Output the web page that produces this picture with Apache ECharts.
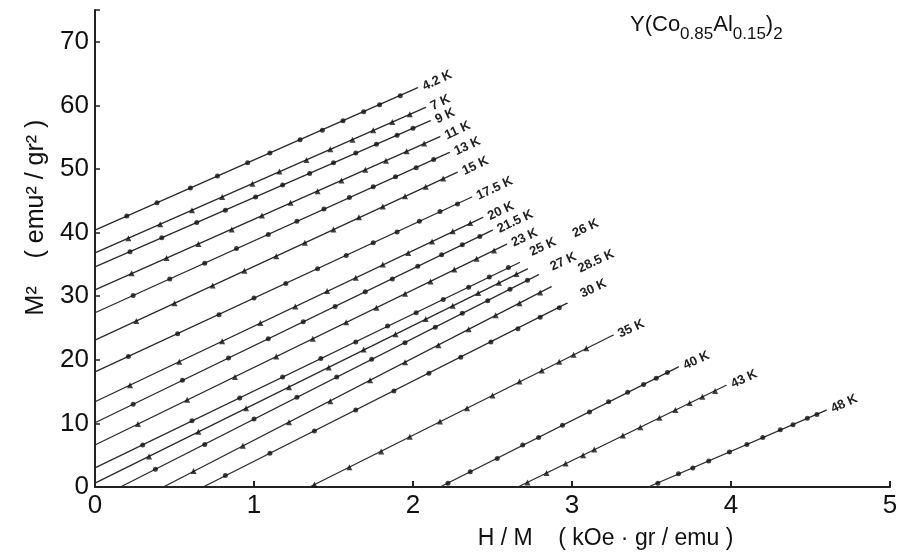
<!DOCTYPE html>
<html>
<head>
<meta charset="utf-8">
<script src="https://cdn.jsdelivr.net/npm/echarts@6/dist/echarts.min.js"></script>
<style>html,body{margin:0;padding:0;background:#fff}#c{width:904px;height:557px}</style>
</head>
<body>
<div id="c"></div>
<script>
// Temperatures (line labels)
const temps = ['4.2 K','7 K','9 K','11 K','13 K','15 K','17.5 K','20 K','21.5 K','23 K','25 K','26 K','27 K','28.5 K','30 K','35 K','40 K','43 K','48 K'];
// Straight-line fits: start and end points [H/M, M^2]
const fitStart = [[0,40.4],[0,36.8],[0,34.6],[0,31.0],[0,27.4],[0,23.1],[0,18.1],[0,13.4],[0,10.1],[0,6.6],[0,3.0],[0,0.6],[0.16,0],[0.43,0],[0.68,0],[1.35,0],[2.17,0],[2.66,0],[3.48,0]];
const fitEnd = [[2.03,62.8],[2.08,59.7],[2.11,57.6],[2.17,55.1],[2.23,52.6],[2.28,49.5],[2.37,45.6],[2.44,42.4],[2.50,40.4],[2.59,38.2],[2.67,35.3],[2.72,34.3],[2.79,33.4],[2.87,31.5],[2.97,28.9],[3.26,23.9],[3.67,18.9],[3.97,16.0],[4.60,12.1]];
// Measured points per temperature [H/M, M^2]
const p4_2 = [[0.20,42.6],[0.39,44.7],[0.60,47.0],[0.77,48.9],[0.96,51.0],[1.10,52.5],[1.29,54.6],[1.43,56.1],[1.56,57.6],[1.69,59.0],[1.79,60.1],[1.92,61.5]];
const p7 = [[0.21,39.1],[0.41,41.3],[0.61,43.5],[0.80,45.6],[0.99,47.7],[1.16,49.6],[1.33,51.4],[1.48,53.1],[1.62,54.6],[1.75,56.1],[1.87,57.4],[1.98,58.6]];
const p9 = [[0.22,37.0],[0.42,39.2],[0.64,41.6],[0.82,43.5],[1.01,45.6],[1.18,47.5],[1.35,49.3],[1.50,51.0],[1.64,52.5],[1.77,53.9],[1.90,55.3],[2.00,56.4]];
const p11 = [[0.23,33.6],[0.45,36.0],[0.65,38.2],[0.86,40.5],[1.05,42.7],[1.23,44.7],[1.40,46.5],[1.55,48.2],[1.70,49.9],[1.83,51.3],[1.96,52.8],[2.07,54.0]];
const p13 = [[0.24,30.1],[0.47,32.7],[0.69,35.2],[0.89,37.5],[1.09,39.7],[1.27,41.8],[1.44,43.7],[1.60,45.5],[1.75,47.2],[1.89,48.8],[2.02,50.2],[2.13,51.5]];
const p15 = [[0.26,26.1],[0.50,28.9],[0.74,31.7],[0.94,34.0],[1.14,36.3],[1.32,38.4],[1.50,40.5],[1.66,42.4],[1.81,44.1],[1.95,45.7],[2.08,47.2],[2.19,48.5]];
const p17_5 = [[0.21,20.5],[0.52,24.1],[0.78,27.1],[1.00,29.7],[1.20,32.0],[1.40,34.3],[1.58,36.4],[1.75,38.4],[1.90,40.1],[2.04,41.8],[2.17,43.3],[2.28,44.5]];
const p20 = [[0.22,16.0],[0.53,19.7],[0.80,22.9],[1.04,25.8],[1.26,28.4],[1.46,30.8],[1.64,32.9],[1.81,35.0],[1.97,36.8],[2.12,38.6],[2.25,40.2],[2.36,41.5]];
const p21_5 = [[0.24,13.0],[0.55,16.8],[0.84,20.3],[1.09,23.3],[1.31,26.0],[1.51,28.4],[1.70,30.7],[1.87,32.7],[2.03,34.7],[2.18,36.5],[2.31,38.1],[2.42,39.4]];
const p23 = [[0.27,9.9],[0.58,13.7],[0.88,17.3],[1.14,20.5],[1.37,23.3],[1.58,25.9],[1.77,28.2],[1.95,30.4],[2.11,32.3],[2.26,34.2],[2.40,35.9],[2.51,37.2]];
const p25 = [[0.30,6.6],[0.61,10.4],[0.91,14.0],[1.18,17.3],[1.42,20.2],[1.64,22.8],[1.84,25.3],[2.02,27.4],[2.19,29.5],[2.35,31.4],[2.48,33.0],[2.60,34.5]];
const p26 = [[0.34,4.8],[0.65,8.7],[0.95,12.4],[1.22,15.7],[1.47,18.8],[1.69,21.6],[1.89,24.0],[2.08,26.4],[2.25,28.5],[2.41,30.5],[2.54,32.1],[2.65,33.5]];
const p27 = [[0.38,2.8],[0.69,6.7],[1.00,10.7],[1.27,14.1],[1.52,17.3],[1.74,20.1],[1.95,22.7],[2.14,25.1],[2.31,27.3],[2.47,29.3],[2.61,31.1],[2.72,32.5]];
const p28_5 = [[0.62,2.5],[0.93,6.5],[1.22,10.2],[1.48,13.5],[1.73,16.8],[1.95,19.6],[2.16,22.3],[2.35,24.8],[2.52,27.0],[2.67,28.9],[2.80,30.6]];
const p30 = [[0.82,1.8],[1.10,5.3],[1.38,8.8],[1.64,12.1],[1.88,15.1],[2.10,17.9],[2.30,20.4],[2.49,22.8],[2.66,24.9],[2.80,26.7],[2.92,28.2]];
const p35 = [[1.38,0.4],[1.60,3.1],[1.80,5.6],[1.98,7.9],[2.17,10.3],[2.34,12.4],[2.50,14.4],[2.67,16.6],[2.81,18.3],[2.92,19.7],[3.01,20.8],[3.09,21.8]];
const p40 = [[2.22,0.6],[2.36,2.4],[2.53,4.5],[2.69,6.6],[2.79,7.8],[2.94,9.7],[3.11,11.8],[3.23,13.4],[3.35,14.9],[3.45,16.1],[3.53,17.1],[3.60,18.0]];
const p43 = [[2.72,0.7],[2.84,2.2],[2.96,3.7],[3.07,5.0],[3.14,5.9],[3.32,8.1],[3.43,9.4],[3.55,10.9],[3.65,12.1],[3.74,13.2],[3.82,14.2],[3.90,15.1]];
const p48 = [[3.54,0.6],[3.67,2.1],[3.76,3.0],[3.86,4.1],[3.99,5.5],[4.10,6.7],[4.20,7.8],[4.31,9.0],[4.39,9.8],[4.48,10.8],[4.54,11.4]];
const pointSets = [p4_2,p7,p9,p11,p13,p15,p17_5,p20,p21_5,p23,p25,p26,p27,p28_5,p30,p35,p40,p43,p48];
// Axis ticks
const xTicks = [0,1,2,3,4,5];
const yTicks = [0,10,20,30,40,50,60,70];

const FONT = 'Liberation Sans, Arial, sans-serif';
const labelOffsets = {'25 K':[10,-6],'26 K':[52,-14],'27 K':[10,-3],'28.5 K':[28,-6],'30 K':[12,-4]};

const series = [];
temps.forEach((t, i) => {
  series.push({
    type: 'line', silent: true, showSymbol: true, symbol: 'circle', symbolSize: 1,
    itemStyle: { color: '#2a2a2a' },
    lineStyle: { color: '#2a2a2a', width: 1.3 },
    data: [{ value: fitStart[i], symbol: 'none' }, { value: fitEnd[i], label: {
      show: true, formatter: t, position: 'right', distance: 4, rotate: 25,
      offset: labelOffsets[t] || [1, 0],
      fontSize: 13, fontWeight: 'bold', color: '#222', fontFamily: FONT } }],
    z: 2
  });
  series.push({
    type: 'scatter', silent: true,
    symbol: i % 2 ? 'triangle' : 'circle', symbolSize: i % 2 ? 6 : 5,
    itemStyle: { color: '#111' },
    data: pointSets[i], z: 3
  });
});

const chart = echarts.init(document.getElementById('c'));
chart.setOption({
  animation: false,
  backgroundColor: '#fff',
  title: {
    text: '{m|Y(Co}{s|0.85}{m|Al}{s|0.15}{m|)}{s|2}',
    left: 630, top: 14, padding: 0,
    textStyle: { fontWeight: 'normal', rich: {
      m: { fontSize: 22, verticalAlign: 'top', fontFamily: FONT, color: '#111', fontWeight: 'normal' },
      s: { fontSize: 17, verticalAlign: 'top', padding: [12, 0, 0, 0], fontFamily: FONT, color: '#111', fontWeight: 'normal' }
    } }
  },
  grid: { left: 95, right: 14, top: 10, bottom: 70, containLabel: false },
  xAxis: {
    type: 'value', min: xTicks[0], max: xTicks[xTicks.length - 1], interval: 1,
    name: 'H / M    ( kOe · gr / emu )', nameLocation: 'middle', nameGap: 40,
    nameTextStyle: { fontSize: 23, color: '#111', fontFamily: FONT, padding: [0, 0, 0, 226] },
    axisLine: { lineStyle: { color: '#222', width: 2 } },
    axisTick: { inside: true, length: 6, lineStyle: { color: '#222', width: 2 } },
    axisLabel: { fontSize: 26, color: '#111', margin: 6, fontFamily: FONT },
    splitLine: { show: false }
  },
  yAxis: {
    type: 'value', min: 0, max: 75, interval: 10,
    name: 'M²    ( emu² / gr² )', nameLocation: 'middle', nameGap: 46,
    nameTextStyle: { fontSize: 25, color: '#111', fontFamily: FONT, padding: [0, 0, 0, 62] },
    axisLine: { lineStyle: { color: '#222', width: 2 } },
    axisTick: { inside: true, length: 5, lineStyle: { color: '#222', width: 1.5 } },
    axisLabel: { fontSize: 26, color: '#111', margin: 6, fontFamily: FONT,
      formatter: v => (yTicks.indexOf(v) >= 0 ? String(v) : '') },
    splitLine: { show: false }
  },
  series: series
});
</script>
</body>
</html>
